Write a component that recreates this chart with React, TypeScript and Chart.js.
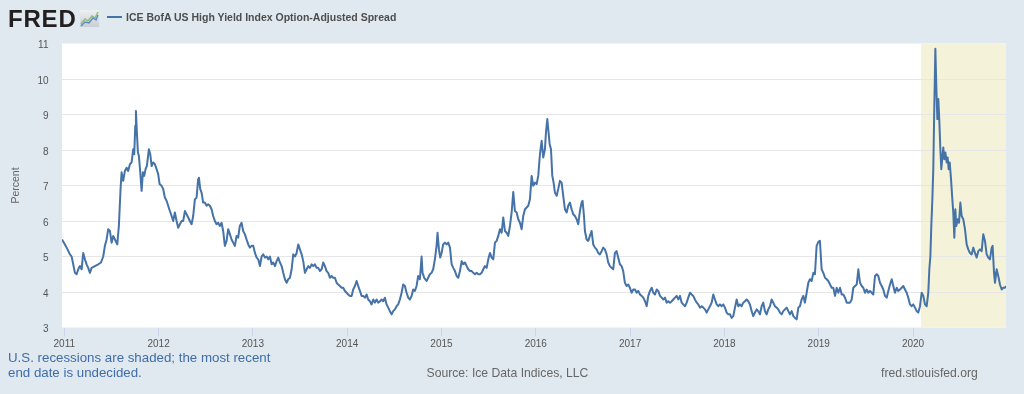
import React, { useEffect, useRef } from "react";
import { Chart, registerables } from "chart.js";

Chart.register(...registerables);

// Readings: [decimal year, percent]
const spread2011: [number, number][] = [
  [2010.976, 5.48], [2011.007, 5.34], [2011.035, 5.2], [2011.06, 5.06], [2011.078, 5.0], [2011.095, 4.78],
  [2011.113, 4.54], [2011.131, 4.5], [2011.148, 4.64], [2011.166, 4.73], [2011.184, 4.64], [2011.201, 5.1],
  [2011.219, 4.92], [2011.237, 4.78], [2011.254, 4.68], [2011.272, 4.54], [2011.29, 4.68], [2011.325, 4.73],
  [2011.36, 4.78], [2011.389, 4.83], [2011.413, 5.0], [2011.431, 5.3], [2011.449, 5.48], [2011.466, 5.77],
  [2011.484, 5.72], [2011.502, 5.39], [2011.519, 5.58], [2011.537, 5.48], [2011.562, 5.34], [2011.579, 5.86],
  [2011.597, 6.9], [2011.608, 7.37], [2011.625, 7.13], [2011.643, 7.41], [2011.661, 7.5], [2011.678, 7.41],
  [2011.696, 7.6], [2011.714, 7.65], [2011.731, 8.02], [2011.742, 7.88], [2011.753, 8.68], [2011.76, 9.1],
  [2011.77, 8.5], [2011.781, 7.93], [2011.791, 7.84], [2011.806, 7.37], [2011.82, 6.85], [2011.834, 7.37],
  [2011.848, 7.27], [2011.862, 7.46], [2011.876, 7.55], [2011.897, 8.02], [2011.912, 7.88], [2011.926, 7.55],
  [2011.943, 7.65], [2011.961, 7.6], [2011.979, 7.46], [2011.996, 7.32],
];

const spread2012: [number, number][] = [
  [2012.011, 7.04], [2012.032, 6.99], [2012.049, 6.9], [2012.067, 6.66], [2012.085, 6.57], [2012.102, 6.43],
  [2012.12, 6.28], [2012.138, 6.14], [2012.155, 6.0], [2012.173, 6.24], [2012.191, 6.0], [2012.208, 5.81],
  [2012.226, 5.91], [2012.244, 6.0], [2012.261, 6.0], [2012.279, 6.28], [2012.297, 6.19], [2012.314, 6.1],
  [2012.332, 6.0], [2012.35, 5.91], [2012.367, 6.14], [2012.385, 6.61], [2012.403, 6.66], [2012.42, 7.18],
  [2012.428, 7.22], [2012.442, 6.9], [2012.456, 6.8], [2012.473, 6.52], [2012.491, 6.52], [2012.509, 6.43],
  [2012.526, 6.47], [2012.544, 6.43], [2012.562, 6.33], [2012.579, 6.14], [2012.597, 6.0], [2012.615, 5.91],
  [2012.632, 5.95], [2012.65, 5.86], [2012.668, 5.95], [2012.685, 5.72], [2012.703, 5.3], [2012.721, 5.44],
  [2012.738, 5.77], [2012.756, 5.63], [2012.774, 5.48], [2012.791, 5.39], [2012.809, 5.3], [2012.827, 5.58],
  [2012.844, 5.53], [2012.862, 5.86], [2012.88, 5.95], [2012.897, 5.72], [2012.915, 5.63], [2012.933, 5.48],
  [2012.951, 5.34], [2012.968, 5.25], [2012.986, 5.3],
];

const spread2013: [number, number][] = [
  [2013.004, 5.3], [2013.022, 5.1], [2013.04, 4.97], [2013.057, 4.92], [2013.075, 4.73], [2013.093, 5.0],
  [2013.11, 5.06], [2013.128, 4.97], [2013.146, 5.0], [2013.163, 4.92], [2013.181, 5.0], [2013.199, 4.78],
  [2013.216, 4.83], [2013.234, 4.73], [2013.252, 4.87], [2013.269, 4.97], [2013.287, 4.83], [2013.305, 4.73],
  [2013.322, 4.54], [2013.34, 4.36], [2013.358, 4.26], [2013.375, 4.36], [2013.393, 4.4], [2013.411, 4.64],
  [2013.428, 5.06], [2013.446, 5.0], [2013.464, 5.1], [2013.481, 5.34], [2013.499, 5.2], [2013.517, 5.06],
  [2013.534, 4.87], [2013.552, 4.54], [2013.57, 4.64], [2013.587, 4.73], [2013.605, 4.68], [2013.623, 4.78],
  [2013.64, 4.73], [2013.658, 4.78], [2013.676, 4.68], [2013.693, 4.68], [2013.711, 4.59], [2013.729, 4.64],
  [2013.746, 4.83], [2013.764, 4.73], [2013.782, 4.59], [2013.799, 4.54], [2013.817, 4.4], [2013.835, 4.45],
  [2013.852, 4.4], [2013.87, 4.4], [2013.888, 4.26], [2013.905, 4.21], [2013.923, 4.17], [2013.941, 4.12],
  [2013.958, 4.12], [2013.976, 4.03], [2013.994, 3.98],
];

const spread2014: [number, number][] = [
  [2014.011, 3.93], [2014.029, 3.89], [2014.047, 3.89], [2014.064, 4.07], [2014.082, 4.17], [2014.1, 4.31],
  [2014.117, 4.17], [2014.135, 4.03], [2014.153, 3.89], [2014.17, 3.89], [2014.188, 3.84], [2014.206, 3.93],
  [2014.223, 3.79], [2014.241, 3.74], [2014.259, 3.65], [2014.276, 3.79], [2014.294, 3.7], [2014.312, 3.79],
  [2014.329, 3.7], [2014.347, 3.74], [2014.365, 3.79], [2014.382, 3.74], [2014.4, 3.84], [2014.418, 3.65],
  [2014.435, 3.56], [2014.453, 3.46], [2014.471, 3.37], [2014.488, 3.46], [2014.506, 3.51], [2014.524, 3.6],
  [2014.541, 3.65], [2014.559, 3.79], [2014.577, 3.98], [2014.594, 4.21], [2014.612, 4.17], [2014.63, 3.98],
  [2014.647, 3.84], [2014.665, 3.79], [2014.683, 3.89], [2014.7, 4.07], [2014.718, 4.03], [2014.736, 4.17],
  [2014.753, 4.45], [2014.771, 4.36], [2014.789, 5.0], [2014.799, 4.54], [2014.817, 4.4], [2014.842, 4.31],
  [2014.859, 4.4], [2014.877, 4.5], [2014.895, 4.54], [2014.912, 4.64], [2014.93, 4.92], [2014.948, 5.3],
  [2014.958, 5.67], [2014.973, 5.2], [2014.987, 4.97],
];

const spread2015: [number, number][] = [
  [2015.001, 5.1], [2015.018, 5.34], [2015.037, 5.39], [2015.055, 5.34], [2015.072, 5.39], [2015.09, 5.25],
  [2015.108, 4.78], [2015.125, 4.68], [2015.143, 4.59], [2015.161, 4.45], [2015.178, 4.4], [2015.196, 4.59],
  [2015.214, 4.87], [2015.231, 4.78], [2015.249, 4.83], [2015.267, 4.73], [2015.284, 4.64], [2015.302, 4.59],
  [2015.32, 4.59], [2015.337, 4.54], [2015.355, 4.5], [2015.373, 4.54], [2015.39, 4.5], [2015.408, 4.5],
  [2015.426, 4.54], [2015.443, 4.64], [2015.461, 4.73], [2015.479, 4.68], [2015.496, 4.92], [2015.514, 5.1],
  [2015.532, 4.97], [2015.549, 4.92], [2015.567, 5.39], [2015.585, 5.44], [2015.602, 5.58], [2015.62, 5.77],
  [2015.638, 5.67], [2015.655, 6.1], [2015.673, 5.72], [2015.691, 5.67], [2015.708, 5.58], [2015.726, 5.86],
  [2015.744, 6.24], [2015.761, 6.82], [2015.779, 6.28], [2015.797, 6.24], [2015.814, 6.05], [2015.832, 5.95],
  [2015.85, 5.77], [2015.867, 6.14], [2015.885, 6.33], [2015.903, 6.38], [2015.92, 6.43], [2015.938, 6.61],
  [2015.956, 7.27], [2015.973, 6.99], [2015.991, 7.08],
];

const spread2016: [number, number][] = [
  [2016.009, 7.04], [2016.026, 7.27], [2016.044, 7.88], [2016.062, 8.26], [2016.079, 7.79], [2016.097, 8.02],
  [2016.108, 8.5], [2016.122, 8.87], [2016.132, 8.59], [2016.147, 8.17], [2016.161, 8.02], [2016.175, 7.27],
  [2016.189, 7.08], [2016.203, 6.8], [2016.221, 6.71], [2016.238, 6.9], [2016.256, 7.13], [2016.274, 7.08],
  [2016.291, 6.71], [2016.309, 6.33], [2016.327, 6.24], [2016.344, 6.43], [2016.362, 6.52], [2016.38, 6.33],
  [2016.397, 6.19], [2016.415, 6.14], [2016.433, 6.05], [2016.45, 5.91], [2016.468, 6.28], [2016.486, 6.52],
  [2016.496, 6.57], [2016.511, 6.14], [2016.521, 5.72], [2016.539, 5.48], [2016.556, 5.44], [2016.574, 5.58],
  [2016.592, 5.72], [2016.609, 5.34], [2016.627, 5.25], [2016.645, 5.2], [2016.662, 5.1], [2016.68, 5.06],
  [2016.698, 5.15], [2016.715, 5.25], [2016.733, 5.2], [2016.751, 5.06], [2016.768, 4.83], [2016.786, 4.73],
  [2016.804, 4.68], [2016.821, 4.64], [2016.839, 5.1], [2016.857, 5.15], [2016.874, 4.97], [2016.892, 4.78],
  [2016.91, 4.73], [2016.927, 4.59], [2016.945, 4.26], [2016.963, 4.17], [2016.98, 4.21], [2016.998, 4.12],
];

const spread2017: [number, number][] = [
  [2017.016, 3.98], [2017.034, 4.07], [2017.052, 4.07], [2017.07, 3.98], [2017.087, 4.03], [2017.105, 3.93],
  [2017.123, 3.89], [2017.14, 3.84], [2017.158, 3.74], [2017.176, 3.6], [2017.193, 3.89], [2017.211, 4.03],
  [2017.229, 4.12], [2017.246, 3.98], [2017.264, 3.93], [2017.282, 4.07], [2017.299, 4.03], [2017.317, 3.89],
  [2017.335, 3.84], [2017.352, 3.79], [2017.37, 3.84], [2017.388, 3.7], [2017.405, 3.74], [2017.423, 3.7],
  [2017.441, 3.74], [2017.458, 3.79], [2017.476, 3.84], [2017.494, 3.89], [2017.511, 3.79], [2017.529, 3.89],
  [2017.547, 3.7], [2017.564, 3.65], [2017.582, 3.6], [2017.6, 3.7], [2017.617, 3.84], [2017.635, 3.98],
  [2017.653, 3.93], [2017.67, 3.89], [2017.688, 3.79], [2017.706, 3.7], [2017.723, 3.65], [2017.741, 3.56],
  [2017.759, 3.6], [2017.776, 3.56], [2017.794, 3.51], [2017.812, 3.42], [2017.829, 3.51], [2017.847, 3.6],
  [2017.865, 3.7], [2017.882, 3.93], [2017.9, 3.79], [2017.918, 3.65], [2017.935, 3.6], [2017.953, 3.65],
  [2017.971, 3.6], [2017.988, 3.65],
];

const spread2018: [number, number][] = [
  [2018.006, 3.56], [2018.024, 3.42], [2018.041, 3.37], [2018.059, 3.37], [2018.077, 3.27], [2018.094, 3.32],
  [2018.112, 3.56], [2018.13, 3.79], [2018.147, 3.6], [2018.165, 3.65], [2018.183, 3.6], [2018.2, 3.7],
  [2018.218, 3.74], [2018.236, 3.79], [2018.253, 3.74], [2018.271, 3.65], [2018.289, 3.46], [2018.306, 3.32],
  [2018.324, 3.42], [2018.342, 3.51], [2018.359, 3.46], [2018.377, 3.37], [2018.395, 3.6], [2018.412, 3.7],
  [2018.43, 3.46], [2018.448, 3.37], [2018.465, 3.51], [2018.483, 3.6], [2018.501, 3.79], [2018.518, 3.7],
  [2018.536, 3.6], [2018.554, 3.56], [2018.571, 3.51], [2018.589, 3.42], [2018.607, 3.37], [2018.624, 3.46],
  [2018.642, 3.51], [2018.66, 3.56], [2018.678, 3.46], [2018.695, 3.37], [2018.713, 3.46], [2018.731, 3.32],
  [2018.748, 3.27], [2018.766, 3.23], [2018.784, 3.56], [2018.801, 3.6], [2018.819, 3.79], [2018.837, 3.89],
  [2018.854, 3.7], [2018.872, 3.98], [2018.89, 4.26], [2018.907, 4.36], [2018.925, 4.31], [2018.943, 4.54],
  [2018.96, 4.5], [2018.978, 5.3], [2018.996, 5.41],
];

const spread2019: [number, number][] = [
  [2019.013, 5.44], [2019.031, 4.64], [2019.049, 4.54], [2019.067, 4.4], [2019.085, 4.36], [2019.102, 4.31],
  [2019.12, 4.21], [2019.138, 4.12], [2019.155, 4.12], [2019.173, 3.89], [2019.191, 4.12], [2019.208, 3.98],
  [2019.226, 4.12], [2019.244, 3.93], [2019.261, 3.93], [2019.279, 3.84], [2019.297, 3.7], [2019.314, 3.7],
  [2019.332, 3.7], [2019.35, 3.79], [2019.367, 4.12], [2019.385, 4.17], [2019.403, 4.21], [2019.42, 4.64],
  [2019.438, 4.26], [2019.456, 4.17], [2019.473, 4.12], [2019.491, 3.98], [2019.509, 4.07], [2019.526, 3.98],
  [2019.544, 4.03], [2019.562, 3.98], [2019.579, 3.93], [2019.597, 4.45], [2019.615, 4.5], [2019.632, 4.45],
  [2019.65, 4.26], [2019.668, 4.17], [2019.685, 4.07], [2019.703, 3.89], [2019.721, 3.84], [2019.738, 4.03],
  [2019.756, 4.21], [2019.774, 4.36], [2019.791, 4.17], [2019.809, 3.98], [2019.827, 4.12], [2019.844, 4.03],
  [2019.862, 4.07], [2019.88, 4.12], [2019.897, 4.17], [2019.915, 4.07], [2019.933, 3.98], [2019.95, 3.84],
  [2019.968, 3.65], [2019.986, 3.6],
];

const spread2020: [number, number][] = [
  [2020.003, 3.65], [2020.021, 3.56], [2020.039, 3.46], [2020.056, 3.42], [2020.074, 3.6], [2020.092, 3.98],
  [2020.109, 3.89], [2020.127, 3.65], [2020.145, 3.6], [2020.162, 3.98], [2020.173, 4.64], [2020.184, 5.0],
  [2020.194, 5.86], [2020.205, 6.61], [2020.215, 7.46], [2020.226, 9.25], [2020.237, 10.85], [2020.247, 9.81],
  [2020.258, 8.87], [2020.268, 9.44], [2020.279, 8.82], [2020.29, 8.02], [2020.3, 7.46], [2020.311, 7.79],
  [2020.321, 8.07], [2020.332, 7.74], [2020.343, 7.93], [2020.357, 7.65], [2020.367, 7.79], [2020.378, 7.46],
  [2020.389, 7.65], [2020.403, 7.18], [2020.417, 6.61], [2020.427, 6.24], [2020.438, 5.53], [2020.449, 6.33],
  [2020.459, 5.86], [2020.473, 6.05], [2020.488, 5.95], [2020.502, 6.52], [2020.516, 6.14], [2020.533, 6.05],
  [2020.551, 5.77], [2020.569, 5.34], [2020.586, 5.2], [2020.604, 5.1], [2020.622, 5.06], [2020.639, 5.25],
  [2020.657, 5.1], [2020.675, 4.97], [2020.692, 5.15], [2020.71, 5.2], [2020.728, 5.15], [2020.745, 5.63],
  [2020.763, 5.44], [2020.781, 5.06], [2020.798, 4.97], [2020.816, 4.92], [2020.834, 5.25], [2020.844, 5.3],
  [2020.859, 4.54], [2020.869, 4.26], [2020.887, 4.64], [2020.904, 4.45], [2020.922, 4.21], [2020.94, 4.07],
  [2020.957, 4.12], [2020.975, 4.12], [2020.986, 4.17],
];

const xTickYears = [2011, 2012, 2013, 2014, 2015, 2016, 2017, 2018, 2019, 2020];
const yTickValues = [3, 4, 5, 6, 7, 8, 9, 10, 11];
const axisStart = 2010.976;
const axisEnd = 2020.986;
const recessionStart = 2020.085; // 2020-02-01, end undecided

const seriesTitle = "ICE BofA US High Yield Index Option-Adjusted Spread";
const yAxisTitle = "Percent";
const recessionNote = ["U.S. recessions are shaded; the most recent", "end date is undecided."];
const sourceNote = "Source: Ice Data Indices, LLC";
const siteNote = "fred.stlouisfed.org";

const FONT = "'Liberation Sans', Arial, Helvetica, sans-serif";

const plotBackground = {
  id: "plotBackground",
  beforeDraw(chart: any) {
    const { ctx, chartArea: a, scales } = chart;
    ctx.save();
    ctx.fillStyle = "#ffffff";
    ctx.fillRect(a.left, a.top, a.right - a.left, a.bottom - a.top);
    const xs = scales.x.getPixelForValue(recessionStart);
    ctx.fillStyle = "#f4f3da";
    ctx.fillRect(xs, a.top, a.right - xs, a.bottom - a.top);
    ctx.restore();
  },
};

export default function App() {
  const canvasRef = useRef<HTMLCanvasElement | null>(null);

  useEffect(() => {
    if (!canvasRef.current) return;
    const readings = [
      ...spread2011, ...spread2012, ...spread2013, ...spread2014, ...spread2015,
      ...spread2016, ...spread2017, ...spread2018, ...spread2019, ...spread2020,
    ];
    const chart = new Chart(canvasRef.current, {
      type: "line",
      data: {
        datasets: [
          {
            label: seriesTitle,
            data: readings.map(([x, y]) => ({ x, y })),
            borderColor: "#4572a7",
            borderWidth: 2,
            pointRadius: 0,
            tension: 0,
            fill: false,
            borderJoinStyle: "round",
          },
        ],
      },
      options: {
        animation: false,
        responsive: false,
        devicePixelRatio: 1,
        layout: { padding: { left: 0, right: 18, top: 43.5, bottom: 0 } },
        plugins: { legend: { display: false }, tooltip: { enabled: false } },
        scales: {
          x: {
            type: "linear",
            min: axisStart,
            max: axisEnd,
            afterFit: (s: any) => { s.height = 66.5; },
            afterBuildTicks: (s: any) => { s.ticks = xTickYears.map((v) => ({ value: v })); },
            grid: { display: true, drawOnChartArea: false, drawTicks: true, tickLength: 9, color: "#ccd6eb" },
            border: { display: false },
            ticks: {
              padding: 1.5,
              color: "#555555",
              font: { size: 10, family: FONT },
              maxRotation: 0,
              autoSkip: false,
              callback: (v: any) => String(v),
            },
          },
          y: {
            type: "linear",
            min: 3,
            max: 11,
            afterFit: (s: any) => { s.width = 62; },
            afterBuildTicks: (s: any) => { s.ticks = yTickValues.map((v) => ({ value: v })); },
            grid: {
              drawTicks: false,
              lineWidth: 1,
              color: (c: any) => (c.tick && (c.tick.value === 3 || c.tick.value === 11) ? "rgba(0,0,0,0)" : "#e6e6e6"),
            },
            border: { display: false },
            ticks: {
              padding: 13.5,
              labelOffset: 2,
              color: "#555555",
              font: { size: 10, family: FONT },
              callback: (v: any) => String(v),
            },
            title: {
              display: true,
              text: yAxisTitle,
              color: "#666666",
              font: { size: 10.5, family: FONT },
              padding: { top: 10, bottom: 0 },
            },
          },
        },
      },
      plugins: [plotBackground],
    } as any);
    return () => chart.destroy();
  }, []);

  return (
    <div
      style={{
        position: "fixed",
        left: 0,
        top: 0,
        width: 1024,
        height: 394,
        background: "#e1e9f0",
        overflow: "hidden",
        fontFamily: FONT,
      }}
    >
      <canvas ref={canvasRef} width={1024} height={394} style={{ position: "absolute", left: 0, top: 0, width: 1024, height: 394 }} />
      <div
        style={{
          position: "absolute",
          left: 8,
          top: 7,
          fontSize: 24,
          lineHeight: "24px",
          fontWeight: 900,
          letterSpacing: 0.8,
          color: "#231f20",
        }}
      >
        FRED
      </div>
      <svg width="19" height="17" style={{ position: "absolute", left: 80, top: 10 }}>
        <defs>
          <linearGradient id="iconbg" x1="0" y1="0" x2="0" y2="1">
            <stop offset="0" stopColor="#eef0f2" />
            <stop offset="1" stopColor="#c9ced4" />
          </linearGradient>
        </defs>
        <rect width="19" height="17" fill="url(#iconbg)" />
        <polyline points="1,14 5,9 8,11 12,6 15,8 18,2" stroke="#8cbf73" fill="none" strokeWidth="1.4" />
        <polyline points="1,16 5,12 9,13 13,8 16,10 18,5" stroke="#5b8bc9" fill="none" strokeWidth="1.4" />
      </svg>
      <div style={{ position: "absolute", left: 107, top: 16, width: 15, height: 2, background: "#4572a7" }} />
      <div
        style={{
          position: "absolute",
          left: 126,
          top: 11,
          fontSize: 10.5,
          lineHeight: "12px",
          fontWeight: "bold",
          color: "#4d4d4d",
          whiteSpace: "nowrap",
        }}
      >
        {seriesTitle}
      </div>
      <div
        style={{
          position: "absolute",
          left: 8,
          top: 350,
          fontSize: 13.3,
          lineHeight: "15px",
          color: "#3f6ca8",
          whiteSpace: "nowrap",
        }}
      >
        {recessionNote[0]}
        <br />
        {recessionNote[1]}
      </div>
      <div
        style={{
          position: "absolute",
          left: 426.5,
          top: 366,
          fontSize: 12.2,
          lineHeight: "15px",
          color: "#666666",
          whiteSpace: "nowrap",
        }}
      >
        {sourceNote}
      </div>
      <div
        style={{
          position: "absolute",
          left: 881,
          top: 366,
          fontSize: 12.2,
          lineHeight: "15px",
          color: "#666666",
          whiteSpace: "nowrap",
        }}
      >
        {siteNote}
      </div>
    </div>
  );
}
